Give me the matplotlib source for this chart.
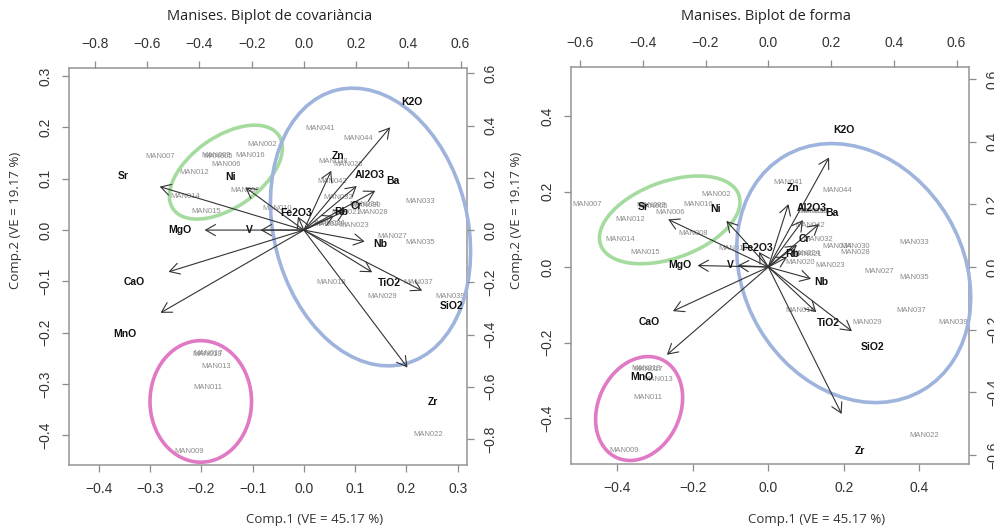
import matplotlib
matplotlib.use('Agg')
import matplotlib.pyplot as plt
from matplotlib.patches import Ellipse

plt.rcParams['font.family'] = ['Liberation Sans', 'DejaVu Sans']

# observation labels (same order in both panels)
obs_names = ['MAN002', 'MAN003', 'MAN005', 'MAN006', 'MAN007', 'MAN008', 'MAN009', 'MAN010',
             'MAN011', 'MAN012', 'MAN013', 'MAN014', 'MAN015', 'MAN016', 'MAN017', 'MAN018',
             'MAN019', 'MAN020', 'MAN021', 'MAN022', 'MAN023', 'MAN024', 'MAN026', 'MAN027',
             'MAN028', 'MAN029', 'MAN030', 'MAN032', 'MAN033', 'MAN034', 'MAN035', 'MAN037',
             'MAN038', 'MAN039', 'MAN041', 'MAN042', 'MAN044']

# covariance biplot scores
cov_obs_x = [-0.081, -0.172, -0.168, -0.151, -0.281, -0.115, -0.224, -0.053,
             -0.187, -0.214, -0.170, -0.232, -0.190, -0.105, -0.186, 0.054,
             -0.189, 0.047, 0.083, 0.242, 0.099, 0.052, 0.086, 0.173,
             0.136, 0.153, 0.122, 0.067, 0.227, 0.118, 0.226, 0.223,
             0.057, 0.285, 0.031, 0.055, 0.106]
cov_obs_y = [0.167, 0.145, 0.143, 0.127, 0.144, 0.078, -0.431, 0.042,
             -0.307, 0.112, -0.266, 0.065, 0.036, 0.146, -0.241, -0.103,
             -0.243, 0.010, 0.034, -0.398, 0.008, 0.013, 0.127, -0.012,
             0.034, -0.129, 0.047, 0.063, 0.055, 0.050, -0.025, -0.103,
             0.133, -0.129, 0.198, 0.094, 0.179]

# shape biplot scores
frm_obs_x = [-0.139, -0.311, -0.305, -0.259, -0.479, -0.199, -0.382, -0.093,
             -0.318, -0.366, -0.291, -0.391, -0.325, -0.185, -0.318, 0.084,
             -0.322, 0.084, 0.102, 0.412, 0.163, 0.097, 0.124, 0.294,
             0.230, 0.261, 0.230, 0.132, 0.386, 0.181, 0.386, 0.377,
             0.120, 0.490, 0.053, 0.110, 0.183]
frm_obs_y = [0.191, 0.163, 0.160, 0.145, 0.166, 0.089, -0.485, 0.050,
             -0.345, 0.127, -0.299, 0.073, 0.039, 0.167, -0.271, -0.114,
             -0.268, 0.012, 0.034, -0.447, 0.005, 0.036, 0.146, -0.012,
             0.039, -0.146, 0.054, 0.073, 0.064, 0.054, -0.027, -0.114,
             0.148, -0.146, 0.224, 0.111, 0.202]

# variables (label positions, arrows drawn to 0.8 of them as in R biplot)
var_names = ['K2O', 'Sr', 'Ni', 'Zn', 'Al2O3', 'Ba', 'Cr', 'Rb', 'Fe2O3', 'MgO', 'V',
             'Nb', 'TiO2', 'SiO2', 'Zr', 'CaO', 'MnO']
cov_var_x = [0.413, -0.690, -0.280, 0.131, 0.253, 0.342, 0.200, 0.144, -0.028, -0.475, -0.207,
             0.291, 0.327, 0.566, 0.496, -0.648, -0.686]
cov_var_y = [0.492, 0.208, 0.204, 0.284, 0.211, 0.188, 0.093, 0.068, 0.064, 0.0, 0.0,
             -0.055, -0.202, -0.290, -0.658, -0.200, -0.396]
frm_var_x = [0.242, -0.399, -0.167, 0.080, 0.138, 0.202, 0.114, 0.075, -0.037, -0.282, -0.122,
             0.170, 0.191, 0.333, 0.292, -0.380, -0.404]
frm_var_y = [0.437, 0.190, 0.184, 0.251, 0.187, 0.171, 0.088, 0.040, 0.060, 0.006, 0.006,
             -0.047, -0.180, -0.256, -0.586, -0.176, -0.350]

group_colors = ['#a6dba0', '#9fb4dc', '#e07ac4']

fig = plt.figure(figsize=(9.95, 5.32), dpi=100)


def panel(rect, xlim, ylim, ratio, xt, yt, sxt, syt, ox, oy, vx, vy, groups):
    ax = fig.add_axes(rect)
    ax.set_xlim(xlim)
    ax.set_ylim(ylim)
    ax.set_xticks(xt)
    ax.set_yticks(yt)
    for s in ax.spines.values():
        s.set_color('#959595')
        s.set_linewidth(1.1)
    ax.tick_params(colors='#8c8c8c', labelcolor='#333333', length=5, width=0.9,
                   labelsize=10, pad=7)
    ax.tick_params(axis='y', labelrotation=90)
    for lab in ax.get_yticklabels():
        lab.set_va('center')

    ax2 = fig.add_axes(rect, facecolor='none', label='sec')
    ax2.set_xlim(xlim[0] * ratio, xlim[1] * ratio)
    ax2.set_ylim(ylim[0] * ratio, ylim[1] * ratio)
    ax2.xaxis.tick_top()
    ax2.yaxis.tick_right()
    ax2.set_xticks(sxt)
    ax2.set_yticks(syt)
    for s in ax2.spines.values():
        s.set_visible(False)
    ax2.tick_params(colors='#8c8c8c', labelcolor='#333333', length=5, width=0.9,
                    labelsize=10, pad=7)
    ax2.tick_params(axis='y', labelrotation=90)
    for lab in ax2.get_yticklabels():
        lab.set_va('center')

    for n, x, y in zip(obs_names, ox, oy):
        ax.text(x, y, n, fontsize=5.5, color='#8a8a8a', ha='center', va='center', clip_on=True)

    for n, x, y in zip(var_names, vx, vy):
        ax2.annotate('', xy=(0.8 * x, 0.8 * y), xytext=(0, 0),
                     arrowprops=dict(arrowstyle='->,head_length=0.7,head_width=0.4',
                                     lw=0.8, color='#333333', shrinkA=0, shrinkB=0,
                                     mutation_scale=10))
        ax2.text(x, y, n, fontsize=7.5, color='#111111', ha='center', va='center',
                 fontweight='bold', clip_on=True)

    for (cx, cy, w, h, a), c in zip(groups, group_colors):
        ax.add_patch(Ellipse((cx, cy), w, h, angle=a, fill=False, ec=c, lw=2.6,
                             clip_on=False, zorder=5))
    return ax


panel([0.0693, 0.1259, 0.4, 0.7463], (-0.458, 0.318), (-0.458, 0.316), 1.964,
      [-0.4, -0.3, -0.2, -0.1, 0.0, 0.1, 0.2, 0.3], [-0.4, -0.3, -0.2, -0.1, 0.0, 0.1, 0.2, 0.3],
      [-0.8, -0.6, -0.4, -0.2, 0.0, 0.2, 0.4, 0.6], [-0.8, -0.6, -0.4, -0.2, 0.0, 0.2, 0.4, 0.6],
      cov_obs_x, cov_obs_y, cov_var_x, cov_var_y,
      [(-0.152, 0.113, 0.251, 0.138, 35), (0.130, 0.006, 0.378, 0.550, 14),
       (-0.201, -0.334, 0.198, 0.237, 0)])

panel([0.5736, 0.1278, 0.4006, 0.7469], (-0.523, 0.532), (-0.522, 0.531), 1.204,
      [-0.4, -0.2, 0.0, 0.2, 0.4], [-0.4, -0.2, 0.0, 0.2, 0.4],
      [-0.6, -0.4, -0.2, 0.0, 0.2, 0.4, 0.6], [-0.6, -0.4, -0.2, 0.0, 0.2, 0.4, 0.6],
      frm_obs_x, frm_obs_y, frm_var_x, frm_var_y,
      [(-0.261, 0.125, 0.389, 0.203, 20), (0.226, -0.016, 0.580, 0.720, 30.6),
       (-0.342, -0.375, 0.217, 0.286, -24.5)])

W, H = 995, 532
fig.text(270 / W, 1 - 16 / H, 'Manises. Biplot de covariància', family='Open Sans',
         fontsize=10.5, ha='center', va='center', color='#222222')
fig.text(766 / W, 1 - 16 / H, 'Manises. Biplot de forma', family='Open Sans',
         fontsize=10.5, ha='center', va='center', color='#222222')
for xc in (315, 817):
    fig.text(xc / W, 1 - 520 / H, 'Comp.1 (VE = 45.17 %)', family='Open Sans',
             fontsize=9.5, ha='center', va='center', color='#333333')
for xc in (16, 517):
    fig.text(xc / W, 1 - 220 / H, 'Comp.2 (VE = 19.17 %)', family='Open Sans',
             fontsize=9.5, ha='center', va='center', rotation=90, color='#333333')

fig.savefig('out.png', dpi=100)
